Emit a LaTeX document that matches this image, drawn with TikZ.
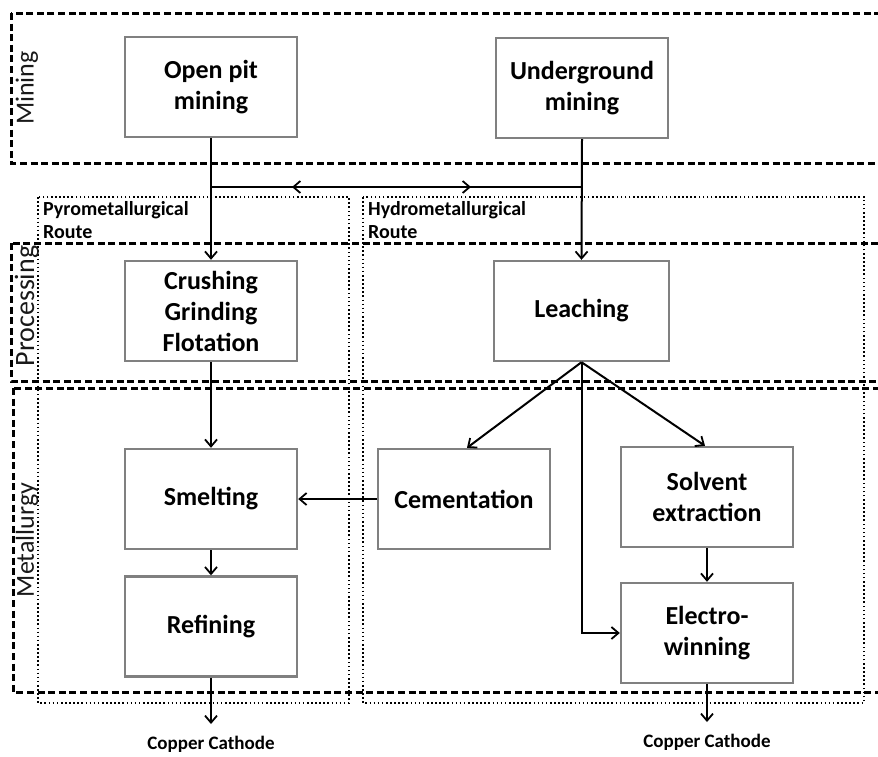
\documentclass[tikz,border=0pt]{standalone}
\usepackage{fontspec}
\setmainfont{Carlito}
\usetikzlibrary{arrows.meta}
\begin{document}
\begin{tikzpicture}[x=1pt,y=-1pt,
  stage/.style={draw=black,line width=3pt,dash pattern=on 7pt off 3.6pt},
  route/.style={draw=black,line width=1.8pt,dash pattern=on 1.6pt off 2.5pt},
  proc/.style={draw=black!50,line width=2.4pt,fill=white,minimum width=172pt,minimum height=100pt,
    align=center,font=\fontsize{26}{31}\selectfont\bfseries,inner sep=2pt},
  flow/.style={draw=black,line width=2pt,-{Straight Barb[length=7pt,width=12pt,line width=1.8pt]}},
  plain/.style={draw=black,line width=2pt},
  sidelabel/.style={rotate=90,font=\fontsize{26}{30}\selectfont,inner sep=0pt,text=black!90},
  routelabel/.style={anchor=west,align=left,font=\fontsize{20}{23}\selectfont\bfseries,inner sep=0pt},
  outlabel/.style={font=\fontsize{19}{22}\selectfont\bfseries,inner sep=0pt}]
\useasboundingbox (0,0) rectangle (878,756);
% stage boxes
\draw[stage] (11,13) rectangle (895,163);
\draw[stage] (11,243) rectangle (895,381);
\draw[stage] (13,388) rectangle (895,692);
% route boxes
\draw[route] (38,197) rectangle (349,703);
\draw[route] (363,197) rectangle (864,703);
% side labels
\node[sidelabel] (lmin) at (27,88) {Mining};
\node[sidelabel,font=\fontsize{28}{30}\selectfont] (lpro) at (27,306) {Processing};
\node[sidelabel] (lmet) at (27,540) {Metallurgy};
\node[routelabel] (lpyro) at (43,220) {Pyrometallurgical\\Route};
\node[routelabel] (lhydro) at (368,220) {Hydrometallurgical\\Route};
% process nodes
\node[proc] (open) at (211,87) {Open pit\\mining};
\node[proc] (under) at (582,88) {Underground\\mining};
\node[proc] (crush) at (211,311) {Crushing\\Grinding\\Flotation};
\node[proc,minimum width=175pt] (leach) at (581.5,311) {Leaching};
\node[proc] (smelt) at (211,499) {Smelting};
\node[proc] (cement) at (464,499) {Cementation};
\node[proc] (solvent) at (707,497) {Solvent\\extraction};
\node[proc] (refine) at (211,626.5) {Refining};
\node[proc] (electro) at (707,633) {Electro-\\winning};
% outputs
\coordinate (out1) at (211,724);
\coordinate (out2) at (707,722);
\node[outlabel] (cc1) at (211,744) {Copper Cathode};
\node[outlabel] (cc2) at (707,742) {Copper Cathode};
% junction line
\coordinate (jl) at (211,187);
\coordinate (jr) at (582,187);
\coordinate (tl) at (292,187);
\coordinate (tr) at (471,187);
\draw[plain] (jl) -- (jr);
\draw[flow] (jr) -- (tl);
\draw[flow] (jl) -- (tr);
% connectors
\draw[flow] (open.south) -- (crush.north);
\draw[flow] (under.south) -- (leach.north);
\draw[flow] (crush.south) -- (smelt.north);
\draw[flow] (smelt.south) -- (refine.north);
\draw[flow] (refine.south) -- (out1);
\draw[flow] (cement.west) -- (smelt.east);
\draw[flow] (leach.south) -- ([xshift=3pt]cement.north);
\draw[flow] (leach.south) -- ([xshift=-2pt]solvent.north);
\draw[flow] (leach.south) |- (electro.west);
\draw[flow] (solvent.south) -- (electro.north);
\draw[flow] (electro.south) -- (out2);
\end{tikzpicture}
\end{document}
